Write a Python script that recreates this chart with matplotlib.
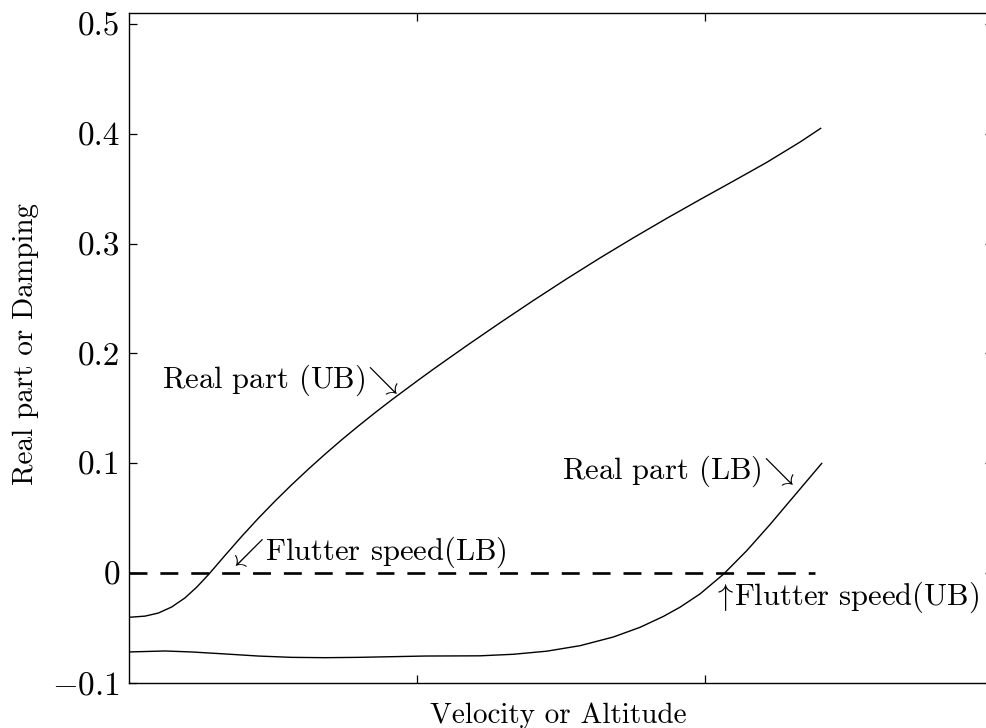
import matplotlib
matplotlib.use("Agg")
import matplotlib.pyplot as plt

plt.rcParams['font.family'] = 'serif'
plt.rcParams['font.serif'] = ['cmr10']
plt.rcParams['mathtext.fontset'] = 'cm'
plt.rcParams['axes.unicode_minus'] = True

# Upper branch (UB) real part
x_ub = [0.0, 0.0572, 0.1035, 0.1497, 0.196, 0.2364, 0.2769, 0.3347, 0.3925,
        0.4503, 0.5081, 0.566, 0.6238, 0.6816, 0.7394, 0.7972, 0.855, 0.9128,
        1.0053, 1.0573, 1.173, 1.2886, 1.4042, 1.5198, 1.6354, 1.7511, 1.8667,
        1.9823, 2.0979, 2.2135, 2.3291, 2.4008]
y_ub = [-0.0400, -0.0389, -0.0361, -0.0306, -0.0223, -0.0126, -0.0013, 0.0163,
        0.0336, 0.0501, 0.0657, 0.0806, 0.0948, 0.1084, 0.1215, 0.1340, 0.1461,
        0.1578, 0.1758, 0.1857, 0.2071, 0.2279, 0.2482, 0.2679, 0.2869, 0.3052,
        0.3229, 0.3400, 0.3568, 0.3738, 0.3923, 0.4048]

# Lower branch (LB) real part
x_lb = [0.0, 0.1266, 0.2191, 0.3347, 0.4503, 0.566, 0.6816, 0.7972, 0.9128,
        1.0284, 1.2191, 1.3347, 1.4503, 1.5659, 1.6816, 1.7741, 1.855, 1.9129,
        1.9823, 2.0631, 2.1443, 2.2241, 2.3059, 2.4044]
y_lb = [-0.0715, -0.0706, -0.0715, -0.0733, -0.0752, -0.0764, -0.0767, -0.0764,
        -0.0758, -0.0752, -0.0750, -0.0736, -0.0708, -0.0658, -0.0579, -0.0491,
        -0.0392, -0.0308, -0.0187, -0.0009, 0.0206, 0.0441, 0.0695, 0.1000]

# Zero-damping reference line
x_zero = [0.0, 2.38]
y_zero = [0.0, 0.0]

y_ticks = [-0.1, 0.0, 0.1, 0.2, 0.3, 0.4, 0.5]
y_ticklabels = ['$-0.1$', '0', '0.1', '0.2', '0.3', '0.4', '0.5']
x_ticks = [1, 2]

W, H = 987, 728
fig = plt.figure(figsize=(W / 100, H / 100), dpi=100)
ax = fig.add_axes([128.5 / W, 1 - 683.3 / H, (993.4 - 128.5) / W, (683.3 - 12.7) / H])

ax.plot(x_ub, y_ub, color='black', lw=1.0)
ax.plot(x_lb, y_lb, color='black', lw=1.0)
ax.plot(x_zero, y_zero, color='black', lw=1.9, linestyle=(0, (6.8, 4.9)))

ax.set_xlim(0, 3)
ax.set_ylim(-0.1, 0.51)
ax.set_xticks(x_ticks)
ax.set_xticklabels([])
ax.set_yticks(y_ticks)
ax.set_yticklabels(y_ticklabels)
ax.tick_params(direction='in', length=6, width=0.9, top=True, right=True,
               labelsize=24, pad=6)
for s in ax.spines.values():
    s.set_linewidth(1.0)

fig.text(33 / W, 1 - 344 / H, 'Real part or Damping', fontsize=21, rotation=90,
         rotation_mode='anchor', ha='center', va='baseline')
fig.text(558 / W, 1 - 723 / H, 'Velocity or Altitude', fontsize=21,
         ha='center', va='baseline')

fs = 22
ax.text(0.116, 0.169, r'Real part (UB)$\!\searrow$', fontsize=fs, va='baseline', ha='left')
ax.text(1.503, 0.086, r'Real part (LB)$\!\searrow$', fontsize=fs, va='baseline', ha='left')
ax.text(0.362, 0.0125, r'$\!\swarrow\!$Flutter speed(LB)', fontsize=fs, va='baseline', ha='left')
ax.text(2.040, -0.0286, r'$\!\uparrow\!$Flutter speed(UB)', fontsize=fs, va='baseline', ha='left')

fig.savefig('out.png', dpi=100)
